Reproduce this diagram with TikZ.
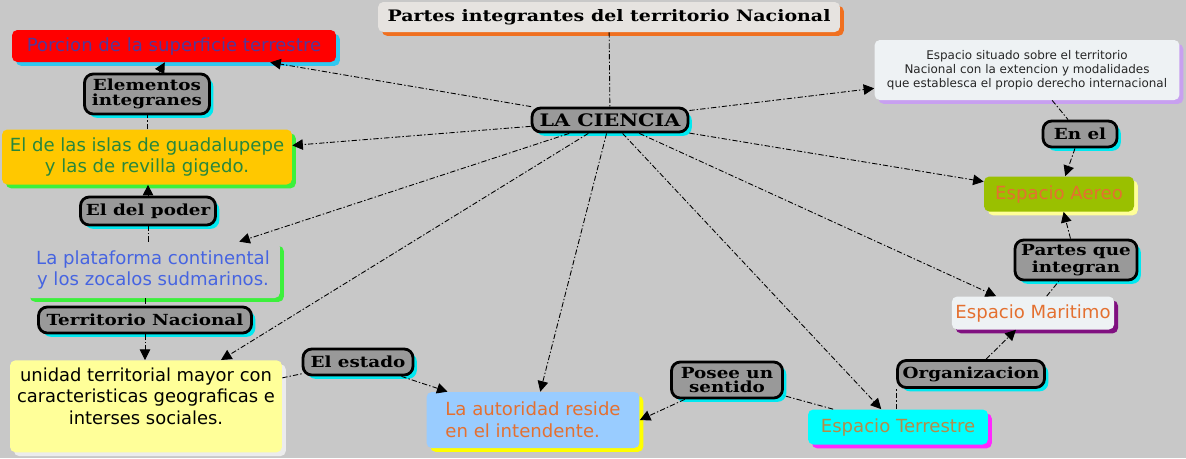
\documentclass[tikz,border=0pt]{standalone}
\usepackage{fontspec}
\setmainfont{DejaVu Sans}
\newfontfamily\lblfont{DejaVu Serif}[FakeStretch=1.2]
\usepackage{tikz}
\usetikzlibrary{arrows.meta, shadows, positioning}

\definecolor{bgcol}{RGB}{200,200,200}
\definecolor{lblgray}{RGB}{153,153,153}
\definecolor{lblcyan}{RGB}{0,232,240}
\definecolor{titlefill}{RGB}{230,227,224}
\definecolor{titleorange}{RGB}{240,112,32}
\definecolor{skyshadow}{RGB}{48,200,240}
\definecolor{porciontext}{RGB}{85,55,150}
\definecolor{islasfill}{RGB}{255,200,0}
\definecolor{islastext}{RGB}{40,135,60}
\definecolor{brightgreen}{RGB}{60,240,60}
\definecolor{platatext}{RGB}{70,100,225}
\definecolor{paleyellow}{RGB}{255,255,153}
\definecolor{lightshadow}{RGB}{236,236,236}
\definecolor{autofill}{RGB}{153,204,255}
\definecolor{orangetext}{RGB}{228,112,48}
\definecolor{terrfill}{RGB}{0,255,255}
\definecolor{terrtext}{RGB}{180,140,72}
\definecolor{magshadow}{RGB}{255,40,255}
\definecolor{maritfill}{RGB}{238,242,244}
\definecolor{purpshadow}{RGB}{128,16,128}
\definecolor{aereofill}{RGB}{154,192,0}
\definecolor{lavshadow}{RGB}{200,160,240}
\definecolor{yellowshadow}{RGB}{255,255,0}

\begin{document}
\begin{tikzpicture}[
    x=0.02cm, y=-0.02cm,
    concept/.style={rectangle, rounded corners=3pt, align=center, inner sep=2pt,
      font=\fontsize{10.3}{12.5}\selectfont},
    shad/.style={drop shadow={fill=#1, opacity=1, shadow xshift=2.2pt, shadow yshift=-2.2pt}},
    lbl/.style={rectangle, rounded corners=5pt, draw=black, line width=1.6pt, fill=lblgray,
      align=center, inner sep=1pt, font=\lblfont\bfseries\fontsize{8.7}{8.4}\selectfont,
      shad=lblcyan},
    link/.style={dash pattern=on 3pt off 1.2pt on 0.8pt off 1.2pt, line width=0.5pt},
    arr/.style={link, -{Triangle[length=6pt, width=6pt]}}
  ]
  \fill[bgcol] (0,0) rectangle (1186,458);
  \useasboundingbox (0,0) rectangle (1186,458);

  % Title and centre
  \node[concept, fill=titlefill, shad=titleorange, minimum width=9.24cm, minimum height=0.6cm,
    font=\lblfont\bfseries\fontsize{9}{9}\selectfont] (title) at (609,17)
    {Partes integrantes del territorio Nacional};
  \node[lbl, minimum width=3.12cm, minimum height=0.48cm,
    font=\lblfont\bfseries\fontsize{9.8}{9.8}\selectfont] (ciencia) at (610,120) {LA CIENCIA};

  % Left column
  \node[concept, fill=red, text=porciontext, shad=skyshadow, minimum width=6.48cm,
    minimum height=0.64cm] (porcion) at (174,46) {Porcion de la superficie terrestre};
  \node[lbl, minimum width=2.5cm, minimum height=0.8cm] (elementos) at (147,94)
    {Elementos\\integranes};
  \node[concept, fill=islasfill, text=islastext, shad=brightgreen, minimum width=5.8cm,
    minimum height=1.1cm] (islas) at (147,157)
    {El de las islas de guadalupepe\\y las de revilla gigedo.};
  \node[lbl, minimum width=2.7cm, minimum height=0.56cm] (poder) at (148,211) {El del poder};
  \node[concept, fill=bgcol, text=platatext, shad=brightgreen, minimum width=5.08cm,
    minimum height=1.12cm] (plataforma) at (153,270)
    {La plataforma continental\\y los zocalos sudmarinos.};
  \node[lbl, minimum width=4.26cm, minimum height=0.52cm] (terrnac) at (145,320)
    {Territorio Nacional};
  \node[concept, fill=paleyellow, shad=lightshadow, minimum width=5.44cm, anchor=north,
    inner ysep=4pt, text depth=0.42cm, font=\fontsize{10.2}{12.3}\selectfont] (unidad) at (146,360)
    {unidad territorial mayor con\\caracteristicas geograficas e\\interses sociales.};

  % Bottom row
  \node[lbl, minimum width=2.2cm, minimum height=0.52cm] (estado) at (358,362) {El estado};
  \node[concept, fill=autofill, text=orangetext, shad=yellowshadow, align=left,
    minimum width=4.26cm, minimum height=1.12cm] (autoridad) at (533,420)
    {La autoridad reside\\en el intendente.};
  \node[lbl, minimum width=2.22cm, minimum height=0.72cm] (posee) at (727,380)
    {Posee un\\sentido};
  \node[concept, fill=terrfill, text=terrtext, shad=magshadow, minimum width=3.6cm,
    minimum height=0.7cm] (terrestre) at (898,427) {Espacio Terrestre};

  % Right column
  \node[lbl, minimum width=2.94cm, minimum height=0.54cm] (organizacion) at (971,374)
    {Organizacion};
  \node[concept, fill=maritfill, text=orangetext, shad=purpshadow, minimum width=3.16cm,
    minimum height=0.66cm] (maritimo) at (1033,313) {Espacio Maritimo};
  \node[lbl, minimum width=2.44cm, minimum height=0.8cm] (partes) at (1076,260)
    {Partes que\\integran};
  \node[concept, fill=aereofill, text=orangetext, shad=paleyellow, minimum width=3.0cm,
    minimum height=0.7cm] (aereo) at (1059,194) {Espacio Aereo};
  \node[lbl, minimum width=1.48cm, minimum height=0.52cm] (enel) at (1080,134) {En el};
  \node[concept, fill=maritfill, text=black!85, shad=lavshadow, minimum width=6.1cm,
    minimum height=1.2cm, font=\fontsize{6.8}{8}\selectfont] (situado) at (1027,70)
    {Espacio situado sobre el territorio\\Nacional con la extencion y modalidades\\que establesca el propio derecho internacional};

  % Links from the centre
  \draw[link] (title) -- (ciencia);
  \foreach \t in {porcion, islas, plataforma, unidad, autoridad, terrestre, maritimo, aereo, situado}
    \draw[arr] (ciencia) -- (\t);

  % Chains with labels
  \draw[link] (islas) -- (elementos);
  \draw[arr] (elementos) -- (porcion);
  \draw[link] (plataforma.north -| poder) -- (poder);
  \draw[arr] (poder) -- (poder |- islas.south);
  \draw[link] (plataforma.south -| terrnac) -- (terrnac);
  \draw[arr] (terrnac) -- (terrnac |- unidad.north);
  \draw[link] (unidad) -- (estado);
  \draw[arr] (estado) -- (autoridad);
  \draw[link] (terrestre) -- (posee);
  \draw[arr] (posee) -- (autoridad.east);
  \draw[link] (terrestre.north -| organizacion.west) -- (organizacion.south west);
  \draw[arr] (organizacion) -- (maritimo);
  \draw[link] (maritimo) -- (partes);
  \draw[arr] (partes) -- (aereo);
  \draw[link] (situado) -- (enel);
  \draw[arr] (enel) -- (aereo);
\end{tikzpicture}
\end{document}
